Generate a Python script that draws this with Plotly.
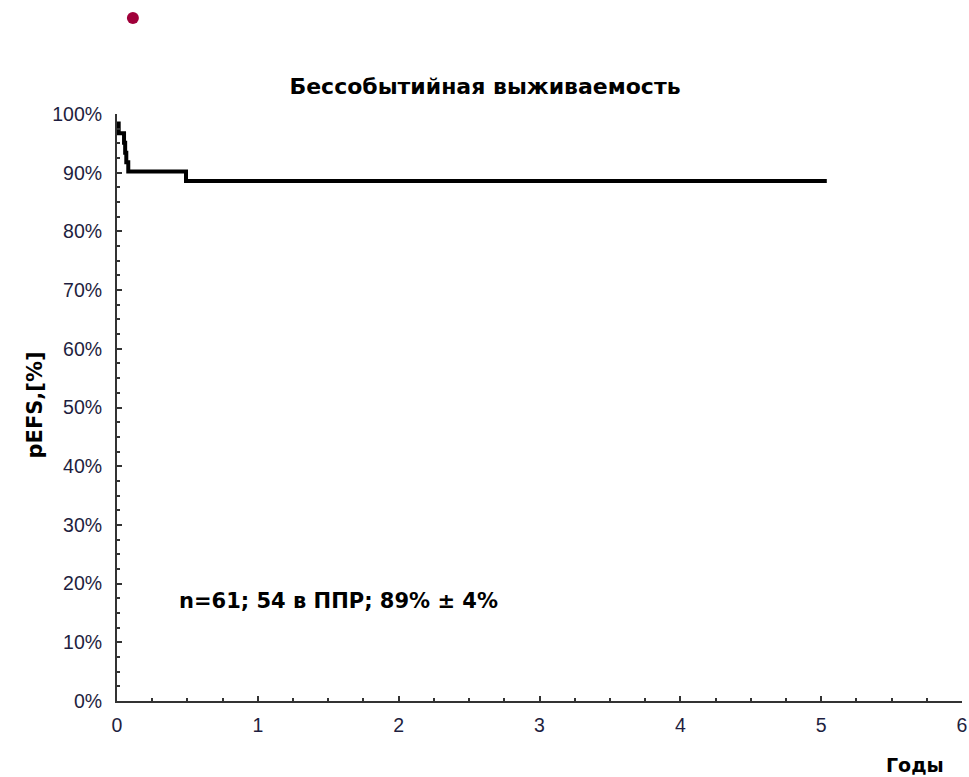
import plotly.graph_objects as go

# Kaplan-Meier estimate
years = [0, 0.012, 0.05, 0.058, 0.066, 0.08, 0.49, 5.04]
pefs = [98.4, 96.7, 95.1, 93.4, 91.8, 90.2, 88.6, 88.6]

title_text = "Бессобытийная выживаемость"
x_title = "Годы"
y_title = "pEFS,[%]"
note_text = "n=61; 54 в ППР; 89% ± 4%"

tick_color = '#1e1e40'
axis_color = '#333333'
tick_family = 'Liberation Sans, Arial, sans-serif'
bold_family = 'DejaVu Sans, Liberation Sans, sans-serif'

fig = go.Figure()
fig.add_trace(go.Scatter(
    x=years,
    y=pefs,
    mode='lines',
    line=dict(color='black', width=4, shape='hv'),
    showlegend=False,
    hoverinfo='skip',
))

axis_common = dict(
    showgrid=False,
    zeroline=False,
    showline=True,
    linecolor=axis_color,
    linewidth=2,
    ticks='inside',
    ticklen=5,
    tickwidth=1.5,
    tickcolor=axis_color,
    ticklabeloverflow='allow',
    tickfont=dict(family=tick_family, size=19.5, color=tick_color),
)

fig.update_layout(
    width=969,
    height=777,
    plot_bgcolor='white',
    paper_bgcolor='white',
    margin=dict(l=117, r=2, t=114, b=76),
    font=dict(family=tick_family, color=tick_color),
    title=dict(
        text=f"<b>{title_text}</b>",
        x=485 / 969,
        xanchor='center',
        y=1 - 86 / 777,
        yanchor='middle',
        font=dict(family=bold_family, size=22, color='black'),
    ),
    xaxis=dict(
        range=[0, 6],
        tick0=0,
        dtick=1,
        minor=dict(dtick=0.25, ticks='inside', ticklen=3, tickcolor=axis_color),
        ticklabelstandoff=6,
        **axis_common,
    ),
    yaxis=dict(
        range=[0, 100],
        tick0=0,
        dtick=10,
        ticksuffix='%',
        minor=dict(dtick=2.5, ticks='inside', ticklen=3, tickcolor=axis_color),
        ticklabelstandoff=9,
        **axis_common,
    ),
)

# paper coords below are relative to the plot area (x 117..967, y 114..701)
px_w, px_h = 850, 587

# axis titles placed like the original (x title sits bottom right)
fig.add_annotation(
    text=f"<b>{x_title}</b>", xref='paper', yref='paper',
    x=(920 - 117) / px_w, y=-(765 - 701) / px_h,
    xanchor='center', yanchor='middle', showarrow=False,
    font=dict(family=bold_family, size=19, color='black'),
)
fig.add_annotation(
    text=f"<b>{y_title}</b>", xref='paper', yref='paper',
    x=-(117 - 35) / px_w, y=(701 - 405) / px_h,
    xanchor='center', yanchor='middle', textangle=-90, showarrow=False,
    font=dict(family=bold_family, size=21, color='black'),
)
fig.add_annotation(
    text=f"<b>{note_text}</b>", xref='paper', yref='paper',
    x=(177 - 117) / px_w, y=(701 - 601) / px_h,
    xanchor='left', yanchor='middle', showarrow=False,
    font=dict(family=bold_family, size=21, color='black'),
)

# small crimson dot in the top-left corner
fig.add_shape(
    type='circle', xref='paper', yref='paper',
    xsizemode='pixel', ysizemode='pixel',
    xanchor=(133 - 117) / px_w, yanchor=(701 - 18) / px_h,
    x0=-6, x1=6, y0=-6, y1=6,
    fillcolor='#a0003a', line=dict(width=0),
)

# drop the default 8px body margin so the figure fills the window exactly
fig.write_html(
    "out.html",
    config={'displayModeBar': False},
    post_script="document.body.style.margin = '0';",
)
